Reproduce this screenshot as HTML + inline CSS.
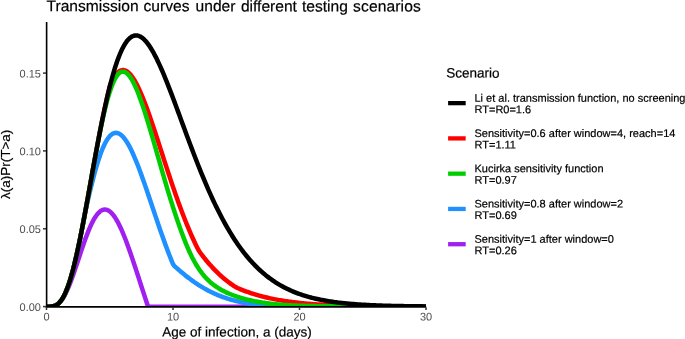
<!DOCTYPE html>
<html><head><meta charset="utf-8"><title>Transmission curves</title>
<style>
html,body{margin:0;padding:0;background:#fff;}
svg{display:block;font-family:"Liberation Sans",Arial,sans-serif;}
.at{font-size:11px;fill:#4D4D4D;}
.lt{font-size:11px;fill:#000;stroke:#000;stroke-width:0.2px;}
.ax{font-size:13.5px;fill:#000;stroke:#000;stroke-width:0.2px;}
.tt{font-size:15.6px;fill:#000;stroke:#000;stroke-width:0.2px;}
</style></head><body>
<svg width="685" height="339" viewBox="0 0 685 339">
<rect width="685" height="339" fill="#fff"/>
<text y="11.25" transform="rotate(0.04 47 11.25)" class="tt"><tspan x="46.5">Transmission</tspan> <tspan x="143.5">curves</tspan> <tspan x="195.6">under</tspan> <tspan x="240.9">different</tspan> <tspan x="301.9">testing</tspan> <tspan x="353.1" style="letter-spacing:0.12px">scenarios</tspan></text>
<clipPath id="cp"><rect x="46.5" y="21.9" width="379.6" height="284.75"/></clipPath>
<g clip-path="url(#cp)" fill="none" stroke-width="4.5" stroke-linejoin="round" stroke-linecap="butt">
<path d="M46.50,306.65 L47.77,306.65 L49.03,306.64 L50.30,306.60 L51.56,306.50 L52.83,306.31 L54.09,306.00 L55.36,305.53 L56.62,304.87 L57.88,303.99 L59.15,302.86 L60.41,301.50 L61.68,299.92 L62.95,298.07 L64.21,295.98 L65.47,293.64 L66.74,291.07 L68.00,288.27 L69.27,285.27 L70.53,282.07 L71.80,278.71 L73.06,275.21 L74.33,271.59 L75.59,267.88 L76.86,264.11 L78.12,260.29 L79.39,256.46 L80.66,252.65 L81.92,248.88 L83.19,245.17 L84.45,241.55 L85.72,238.04 L86.98,234.67 L88.25,231.45 L89.51,228.40 L90.78,225.53 L92.04,222.87 L93.31,220.43 L94.57,218.21 L95.84,216.23 L97.10,214.50 L98.37,213.02 L99.63,211.80 L100.89,210.83 L102.16,210.14 L103.43,209.70 L104.69,209.53 L105.96,209.62 L107.22,209.96 L108.49,210.57 L109.75,211.41 L111.02,212.50 L112.28,213.83 L113.55,215.38 L114.81,217.15 L116.08,219.13 L117.34,221.31 L118.61,223.68 L119.87,226.23 L121.14,228.95 L122.40,231.82 L123.67,234.85 L124.93,238.00 L126.20,241.28 L127.46,244.67 L128.73,248.16 L129.99,251.74 L131.25,255.40 L132.52,259.13 L133.79,262.92 L135.05,266.75 L136.31,270.62 L137.58,274.51 L138.85,278.42 L140.11,282.34 L141.38,286.25 L142.64,290.16 L143.91,294.05 L145.17,297.91 L146.44,301.74 L147.70,305.52 L148.97,306.65 L150.23,306.65 L151.50,306.65 L152.76,306.65 L154.03,306.65 L155.29,306.65 L156.56,306.65 L157.82,306.65 L159.09,306.65 L160.35,306.65 L161.62,306.65 L162.88,306.65 L164.15,306.65 L165.41,306.65 L166.68,306.65 L167.94,306.65 L169.21,306.65 L170.47,306.65 L171.74,306.65 L173.00,306.65 L174.27,306.65 L175.53,306.65 L176.80,306.65 L178.06,306.65 L179.33,306.65 L180.59,306.65 L181.86,306.65 L183.12,306.65 L184.39,306.65 L185.65,306.65 L186.92,306.65 L188.18,306.65 L189.45,306.65 L190.71,306.65 L191.97,306.65 L193.24,306.65 L194.51,306.65 L195.77,306.65 L197.03,306.65 L198.30,306.65 L199.57,306.65 L200.83,306.65 L202.10,306.65 L203.36,306.65 L204.62,306.65 L205.89,306.65 L207.16,306.65 L208.42,306.65 L209.69,306.65 L210.95,306.65 L212.22,306.65 L213.48,306.65 L214.75,306.65 L216.01,306.65 L217.28,306.65 L218.54,306.65 L219.81,306.65 L221.07,306.65 L222.34,306.65 L223.60,306.65 L224.87,306.65 L226.13,306.65 L227.40,306.65 L228.66,306.65 L229.93,306.65 L231.19,306.65 L232.46,306.65 L233.72,306.65 L234.99,306.65 L236.25,306.65 L237.52,306.65 L238.78,306.65 L240.05,306.65 L241.31,306.65 L242.58,306.65 L243.84,306.65 L245.11,306.65 L246.37,306.65 L247.64,306.65 L248.90,306.65 L250.17,306.65 L251.43,306.65 L252.70,306.65 L253.96,306.65 L255.22,306.65 L256.49,306.65 L257.75,306.65 L259.02,306.65 L260.29,306.65 L261.55,306.65 L262.82,306.65 L264.08,306.65 L265.35,306.65 L266.61,306.65 L267.88,306.65 L269.14,306.65 L270.40,306.65 L271.67,306.65 L272.94,306.65 L274.20,306.65 L275.47,306.65 L276.73,306.65 L278.00,306.65 L279.26,306.65 L280.52,306.65 L281.79,306.65 L283.06,306.65 L284.32,306.65 L285.59,306.65 L286.85,306.65 L288.12,306.65 L289.38,306.65 L290.64,306.65 L291.91,306.65 L293.18,306.65 L294.44,306.65 L295.71,306.65 L296.97,306.65 L298.24,306.65 L299.50,306.65 L300.76,306.65 L302.03,306.65 L303.30,306.65 L304.56,306.65 L305.82,306.65 L307.09,306.65 L308.36,306.65 L309.62,306.65 L310.89,306.65 L312.15,306.65 L313.42,306.65 L314.68,306.65 L315.94,306.65 L317.21,306.65 L318.48,306.65 L319.74,306.65 L321.01,306.65 L322.27,306.65 L323.54,306.65 L324.80,306.65 L326.06,306.65 L327.33,306.65 L328.60,306.65 L329.86,306.65 L331.12,306.65 L332.39,306.65 L333.66,306.65 L334.92,306.65 L336.19,306.65 L337.45,306.65 L338.72,306.65 L339.98,306.65 L341.25,306.65 L342.51,306.65 L343.78,306.65 L345.04,306.65 L346.31,306.65 L347.57,306.65 L348.84,306.65 L350.10,306.65 L351.37,306.65 L352.63,306.65 L353.90,306.65 L355.16,306.65 L356.43,306.65 L357.69,306.65 L358.96,306.65 L360.22,306.65 L361.49,306.65 L362.75,306.65 L364.02,306.65 L365.28,306.65 L366.55,306.65 L367.81,306.65 L369.07,306.65 L370.34,306.65 L371.61,306.65 L372.87,306.65 L374.14,306.65 L375.40,306.65 L376.67,306.65 L377.93,306.65 L379.19,306.65 L380.46,306.65 L381.73,306.65 L382.99,306.65 L384.26,306.65 L385.52,306.65 L386.79,306.65 L388.05,306.65 L389.32,306.65 L390.58,306.65 L391.85,306.65 L393.11,306.65 L394.38,306.65 L395.64,306.65 L396.91,306.65 L398.17,306.65 L399.44,306.65 L400.70,306.65 L401.97,306.65 L403.23,306.65 L404.50,306.65 L405.76,306.65 L407.03,306.65 L408.29,306.65 L409.56,306.65 L410.82,306.65 L412.09,306.65 L413.35,306.65 L414.62,306.65 L415.88,306.65 L417.15,306.65 L418.41,306.65 L419.68,306.65 L420.94,306.65 L422.21,306.65 L423.47,306.65 L424.74,306.65 L426.00,306.65" stroke="#A020F0"/>
<path d="M46.50,306.65 L47.77,306.65 L49.03,306.64 L50.30,306.60 L51.56,306.50 L52.83,306.31 L54.09,306.00 L55.36,305.53 L56.62,304.87 L57.88,303.99 L59.15,302.86 L60.41,301.45 L61.68,299.75 L62.95,297.73 L64.21,295.39 L65.47,292.71 L66.74,289.69 L68.00,286.33 L69.27,282.62 L70.53,278.59 L71.80,274.22 L73.06,269.54 L74.33,264.56 L75.59,259.29 L76.86,253.75 L78.12,247.97 L79.39,241.95 L80.66,235.73 L81.92,229.33 L83.19,222.76 L84.45,216.05 L85.72,210.02 L86.98,204.36 L88.25,198.79 L89.51,193.34 L90.78,188.03 L92.04,182.89 L93.31,177.93 L94.57,173.17 L95.84,168.64 L97.10,164.33 L98.37,160.27 L99.63,156.47 L100.89,152.93 L102.16,149.67 L103.43,146.70 L104.69,144.01 L105.96,141.61 L107.22,139.50 L108.49,137.69 L109.75,136.17 L111.02,134.94 L112.28,134.00 L113.55,133.34 L114.81,132.97 L116.08,132.86 L117.34,133.03 L118.61,133.45 L119.87,134.13 L121.14,135.05 L122.40,136.21 L123.67,137.59 L124.93,139.19 L126.20,141.00 L127.46,143.00 L128.73,145.18 L129.99,147.54 L131.25,150.06 L132.52,152.74 L133.79,155.56 L135.05,158.51 L136.31,161.58 L137.58,164.76 L138.85,168.05 L140.11,171.42 L141.38,174.87 L142.64,178.40 L143.91,181.98 L145.17,185.62 L146.44,189.30 L147.70,193.02 L148.97,196.76 L150.23,200.52 L151.50,204.29 L152.76,208.06 L154.03,211.83 L155.29,215.59 L156.56,219.33 L157.82,223.05 L159.09,226.74 L160.35,230.40 L161.62,234.02 L162.88,237.60 L164.15,241.13 L165.41,244.61 L166.68,248.03 L167.94,251.39 L169.21,254.70 L170.47,257.94 L171.74,261.11 L173.00,264.21 L174.27,265.93 L175.53,267.06 L176.80,268.18 L178.06,269.29 L179.33,270.39 L180.59,271.47 L181.86,272.54 L183.12,273.59 L184.39,274.62 L185.65,275.64 L186.92,276.63 L188.18,277.61 L189.45,278.58 L190.71,279.52 L191.97,280.44 L193.24,281.35 L194.51,282.23 L195.77,283.10 L197.03,283.95 L198.30,284.77 L199.57,285.58 L200.83,286.37 L202.10,287.13 L203.36,287.88 L204.62,288.61 L205.89,289.32 L207.16,290.01 L208.42,290.68 L209.69,291.33 L210.95,291.96 L212.22,292.57 L213.48,293.17 L214.75,293.74 L216.01,294.30 L217.28,294.84 L218.54,295.37 L219.81,295.87 L221.07,296.36 L222.34,296.84 L223.60,297.30 L224.87,297.74 L226.13,298.17 L227.40,298.58 L228.66,298.97 L229.93,299.36 L231.19,299.73 L232.46,300.08 L233.72,300.42 L234.99,300.75 L236.25,301.07 L237.52,301.37 L238.78,301.66 L240.05,301.94 L241.31,302.21 L242.58,302.47 L243.84,302.72 L245.11,302.95 L246.37,303.18 L247.64,303.40 L248.90,303.61 L250.17,303.80 L251.43,303.99 L252.70,304.17 L253.96,304.35 L255.22,304.51 L256.49,304.67 L257.75,304.82 L259.02,304.96 L260.29,305.10 L261.55,305.23 L262.82,305.31 L264.08,305.36 L265.35,305.42 L266.61,305.47 L267.88,305.52 L269.14,305.57 L270.40,305.62 L271.67,305.67 L272.94,305.71 L274.20,305.75 L275.47,305.79 L276.73,305.83 L278.00,305.87 L279.26,305.91 L280.52,305.94 L281.79,305.97 L283.06,306.01 L284.32,306.04 L285.59,306.07 L286.85,306.09 L288.12,306.12 L289.38,306.15 L290.64,306.17 L291.91,306.19 L293.18,306.22 L294.44,306.24 L295.71,306.26 L296.97,306.28 L298.24,306.30 L299.50,306.32 L300.76,306.33 L302.03,306.35 L303.30,306.37 L304.56,306.38 L305.82,306.39 L307.09,306.41 L308.36,306.42 L309.62,306.43 L310.89,306.45 L312.15,306.46 L313.42,306.47 L314.68,306.48 L315.94,306.49 L317.21,306.50 L318.48,306.51 L319.74,306.51 L321.01,306.52 L322.27,306.53 L323.54,306.54 L324.80,306.54 L326.06,306.55 L327.33,306.56 L328.60,306.56 L329.86,306.57 L331.12,306.57 L332.39,306.58 L333.66,306.58 L334.92,306.59 L336.19,306.59 L337.45,306.60 L338.72,306.60 L339.98,306.60 L341.25,306.61 L342.51,306.61 L343.78,306.61 L345.04,306.62 L346.31,306.62 L347.57,306.62 L348.84,306.62 L350.10,306.63 L351.37,306.63 L352.63,306.63 L353.90,306.63 L355.16,306.63 L356.43,306.63 L357.69,306.63 L358.96,306.63 L360.22,306.63 L361.49,306.64 L362.75,306.64 L364.02,306.64 L365.28,306.64 L366.55,306.64 L367.81,306.64 L369.07,306.64 L370.34,306.64 L371.61,306.64 L372.87,306.64 L374.14,306.64 L375.40,306.64 L376.67,306.64 L377.93,306.64 L379.19,306.64 L380.46,306.64 L381.73,306.64 L382.99,306.64 L384.26,306.64 L385.52,306.64 L386.79,306.65 L388.05,306.65 L389.32,306.65 L390.58,306.65 L391.85,306.65 L393.11,306.65 L394.38,306.65 L395.64,306.65 L396.91,306.65 L398.17,306.65 L399.44,306.65 L400.70,306.65 L401.97,306.65 L403.23,306.65 L404.50,306.65 L405.76,306.65 L407.03,306.65 L408.29,306.65 L409.56,306.65 L410.82,306.65 L412.09,306.65 L413.35,306.65 L414.62,306.65 L415.88,306.65 L417.15,306.65 L418.41,306.65 L419.68,306.65 L420.94,306.65 L422.21,306.65 L423.47,306.65 L424.74,306.65 L426.00,306.65" stroke="#1E90FF"/>
<path d="M46.50,306.65 L47.77,306.65 L49.03,306.64 L50.30,306.60 L51.56,306.50 L52.83,306.31 L54.09,306.00 L55.36,305.53 L56.62,304.87 L57.88,303.99 L59.15,302.86 L60.41,301.45 L61.68,299.75 L62.95,297.73 L64.21,295.39 L65.47,292.71 L66.74,289.69 L68.00,286.33 L69.27,282.62 L70.53,278.59 L71.80,274.22 L73.06,269.54 L74.33,264.56 L75.59,259.29 L76.86,253.75 L78.12,247.97 L79.39,241.95 L80.66,235.73 L81.92,229.33 L83.19,222.76 L84.45,216.05 L85.72,209.24 L86.98,202.33 L88.25,195.35 L89.51,188.34 L90.78,181.30 L92.04,174.27 L93.31,167.26 L94.57,160.30 L95.84,153.40 L97.10,146.58 L98.37,139.88 L99.63,133.29 L100.89,126.83 L102.16,120.53 L103.43,114.40 L104.69,108.44 L105.96,102.68 L107.22,97.12 L108.49,91.76 L109.75,86.63 L111.02,83.08 L112.28,80.41 L113.55,78.05 L114.81,76.00 L116.08,74.27 L117.34,72.84 L118.61,71.71 L119.87,70.88 L121.14,70.34 L122.40,70.08 L123.67,70.10 L124.93,70.39 L126.20,70.94 L127.46,71.74 L128.73,72.78 L129.99,74.05 L131.25,75.55 L132.52,77.25 L133.79,79.16 L135.05,81.26 L136.31,83.55 L137.58,86.00 L138.85,88.61 L140.11,91.38 L141.38,94.28 L142.64,97.32 L143.91,100.48 L145.17,103.74 L146.44,107.11 L147.70,110.57 L148.97,114.11 L150.23,117.73 L151.50,121.41 L152.76,125.15 L154.03,128.94 L155.29,132.76 L156.56,136.62 L157.82,140.51 L159.09,144.41 L160.35,148.33 L161.62,152.25 L162.88,156.17 L164.15,160.09 L165.41,163.99 L166.68,167.88 L167.94,171.74 L169.21,175.58 L170.47,179.39 L171.74,183.16 L173.00,186.90 L174.27,190.59 L175.53,194.24 L176.80,197.84 L178.06,201.39 L179.33,204.89 L180.59,208.33 L181.86,211.71 L183.12,215.03 L184.39,218.29 L185.65,221.49 L186.92,224.62 L188.18,227.69 L189.45,230.70 L190.71,233.63 L191.97,236.50 L193.24,239.30 L194.51,242.03 L195.77,244.70 L197.03,247.29 L198.30,249.82 L199.57,251.78 L200.83,253.49 L202.10,255.16 L203.36,256.80 L204.62,258.40 L205.89,259.97 L207.16,261.49 L208.42,262.99 L209.69,264.44 L210.95,265.86 L212.22,267.25 L213.48,268.60 L214.75,269.92 L216.01,271.20 L217.28,272.45 L218.54,273.66 L219.81,274.84 L221.07,275.99 L222.34,277.11 L223.60,278.19 L224.87,279.24 L226.13,280.26 L227.40,281.25 L228.66,282.21 L229.93,283.15 L231.19,284.05 L232.46,284.92 L233.72,285.77 L234.99,286.59 L236.25,287.39 L237.52,288.00 L238.78,288.54 L240.05,289.07 L241.31,289.58 L242.58,290.08 L243.84,290.57 L245.11,291.05 L246.37,291.52 L247.64,291.97 L248.90,292.41 L250.17,292.84 L251.43,293.26 L252.70,293.67 L253.96,294.07 L255.22,294.46 L256.49,294.84 L257.75,295.21 L259.02,295.56 L260.29,295.91 L261.55,296.25 L262.82,296.58 L264.08,296.90 L265.35,297.21 L266.61,297.51 L267.88,297.81 L269.14,298.09 L270.40,298.37 L271.67,298.64 L272.94,298.90 L274.20,299.15 L275.47,299.40 L276.73,299.64 L278.00,299.87 L279.26,300.10 L280.52,300.32 L281.79,300.53 L283.06,300.73 L284.32,300.93 L285.59,301.13 L286.85,301.31 L288.12,301.49 L289.38,301.67 L290.64,301.84 L291.91,302.01 L293.18,302.16 L294.44,302.32 L295.71,302.47 L296.97,302.61 L298.24,302.75 L299.50,302.89 L300.76,303.02 L302.03,303.15 L303.30,303.27 L304.56,303.39 L305.82,303.51 L307.09,303.62 L308.36,303.73 L309.62,303.83 L310.89,303.93 L312.15,304.03 L313.42,304.12 L314.68,304.21 L315.94,304.30 L317.21,304.38 L318.48,304.47 L319.74,304.55 L321.01,304.62 L322.27,304.70 L323.54,304.77 L324.80,304.84 L326.06,304.90 L327.33,304.97 L328.60,305.03 L329.86,305.09 L331.12,305.15 L332.39,305.20 L333.66,305.26 L334.92,305.31 L336.19,305.36 L337.45,305.41 L338.72,305.45 L339.98,305.50 L341.25,305.54 L342.51,305.58 L343.78,305.62 L345.04,305.66 L346.31,305.70 L347.57,305.73 L348.84,305.77 L350.10,305.80 L351.37,305.84 L352.63,305.87 L353.90,305.90 L355.16,305.93 L356.43,305.95 L357.69,305.98 L358.96,306.01 L360.22,306.03 L361.49,306.05 L362.75,306.08 L364.02,306.10 L365.28,306.12 L366.55,306.14 L367.81,306.16 L369.07,306.18 L370.34,306.20 L371.61,306.22 L372.87,306.23 L374.14,306.25 L375.40,306.27 L376.67,306.28 L377.93,306.29 L379.19,306.31 L380.46,306.32 L381.73,306.34 L382.99,306.35 L384.26,306.36 L385.52,306.37 L386.79,306.38 L388.05,306.39 L389.32,306.40 L390.58,306.41 L391.85,306.42 L393.11,306.43 L394.38,306.44 L395.64,306.45 L396.91,306.46 L398.17,306.46 L399.44,306.47 L400.70,306.48 L401.97,306.49 L403.23,306.49 L404.50,306.50 L405.76,306.50 L407.03,306.51 L408.29,306.52 L409.56,306.52 L410.82,306.53 L412.09,306.53 L413.35,306.54 L414.62,306.54 L415.88,306.55 L417.15,306.55 L418.41,306.55 L419.68,306.56 L420.94,306.56 L422.21,306.57 L423.47,306.57 L424.74,306.57 L426.00,306.58" stroke="#FF0000"/>
<path d="M46.50,306.65 L47.77,306.65 L49.03,306.64 L50.30,306.60 L51.56,306.50 L52.83,306.31 L54.09,306.00 L55.36,305.53 L56.62,304.87 L57.88,303.99 L59.15,302.86 L60.41,301.45 L61.68,299.75 L62.95,297.73 L64.21,295.39 L65.47,292.71 L66.74,289.69 L68.00,286.33 L69.27,282.62 L70.53,278.59 L71.80,274.22 L73.06,269.54 L74.33,264.56 L75.59,259.29 L76.86,253.75 L78.12,247.97 L79.39,241.95 L80.66,235.73 L81.92,229.33 L83.19,222.76 L84.45,216.05 L85.72,209.24 L86.98,202.33 L88.25,195.37 L89.51,188.36 L90.78,181.34 L92.04,174.33 L93.31,167.35 L94.57,160.43 L95.84,153.58 L97.10,146.82 L98.37,140.18 L99.63,133.72 L100.89,127.50 L102.16,121.52 L103.43,115.81 L104.69,110.38 L105.96,105.27 L107.22,100.48 L108.49,96.02 L109.75,91.92 L111.02,88.18 L112.28,84.81 L113.55,81.82 L114.81,79.20 L116.08,76.97 L117.34,75.13 L118.61,73.67 L119.87,72.60 L121.14,71.93 L122.40,71.63 L123.67,71.71 L124.93,72.12 L126.20,72.85 L127.46,73.87 L128.73,75.19 L129.99,76.79 L131.25,78.67 L132.52,80.81 L133.79,83.20 L135.05,85.84 L136.31,88.70 L137.58,91.76 L138.85,94.98 L140.11,98.36 L141.38,101.89 L142.64,105.56 L143.91,109.36 L145.17,113.26 L146.44,117.27 L147.70,121.38 L148.97,125.56 L150.23,129.81 L151.50,134.11 L152.76,138.45 L154.03,142.82 L155.29,147.21 L156.56,151.62 L157.82,156.04 L159.09,160.46 L160.35,164.87 L161.62,169.27 L162.88,173.64 L164.15,177.99 L165.41,182.30 L166.68,186.56 L167.94,190.78 L169.21,194.95 L170.47,199.07 L171.74,203.13 L173.00,207.12 L174.27,211.05 L175.53,214.91 L176.80,218.68 L178.06,222.38 L179.33,226.00 L180.59,229.53 L181.86,232.98 L183.12,236.34 L184.39,239.62 L185.65,242.82 L186.92,245.92 L188.18,248.89 L189.45,251.72 L190.71,254.42 L191.97,256.99 L193.24,259.44 L194.51,261.76 L195.77,263.97 L197.03,266.06 L198.30,268.04 L199.57,269.91 L200.83,271.69 L202.10,273.37 L203.36,274.95 L204.62,276.45 L205.89,277.86 L207.16,279.18 L208.42,280.43 L209.69,281.61 L210.95,282.71 L212.22,283.75 L213.48,284.74 L214.75,285.67 L216.01,286.57 L217.28,287.42 L218.54,288.23 L219.81,289.00 L221.07,289.74 L222.34,290.44 L223.60,291.10 L224.87,291.73 L226.13,292.34 L227.40,292.92 L228.66,293.48 L229.93,294.02 L231.19,294.53 L232.46,295.03 L233.72,295.51 L234.99,295.97 L236.25,296.41 L237.52,296.83 L238.78,297.24 L240.05,297.63 L241.31,298.01 L242.58,298.37 L243.84,298.72 L245.11,299.06 L246.37,299.38 L247.64,299.70 L248.90,300.00 L250.17,300.29 L251.43,300.56 L252.70,300.83 L253.96,301.09 L255.22,301.34 L256.49,301.58 L257.75,301.81 L259.02,302.03 L260.29,302.24 L261.55,302.45 L262.82,302.64 L264.08,302.83 L265.35,303.01 L266.61,303.19 L267.88,303.35 L269.14,303.51 L270.40,303.67 L271.67,303.81 L272.94,303.95 L274.20,304.09 L275.47,304.22 L276.73,304.34 L278.00,304.46 L279.26,304.57 L280.52,304.67 L281.79,304.77 L283.06,304.86 L284.32,304.95 L285.59,305.04 L286.85,305.11 L288.12,305.19 L289.38,305.26 L290.64,305.33 L291.91,305.39 L293.18,305.45 L294.44,305.51 L295.71,305.56 L296.97,305.61 L298.24,305.66 L299.50,305.70 L300.76,305.74 L302.03,305.78 L303.30,305.82 L304.56,305.86 L305.82,305.89 L307.09,305.93 L308.36,305.96 L309.62,305.99 L310.89,306.02 L312.15,306.04 L313.42,306.07 L314.68,306.10 L315.94,306.12 L317.21,306.14 L318.48,306.16 L319.74,306.18 L321.01,306.20 L322.27,306.22 L323.54,306.24 L324.80,306.26 L326.06,306.28 L327.33,306.29 L328.60,306.31 L329.86,306.32 L331.12,306.34 L332.39,306.35 L333.66,306.36 L334.92,306.38 L336.19,306.39 L337.45,306.40 L338.72,306.41 L339.98,306.42 L341.25,306.43 L342.51,306.44 L343.78,306.45 L345.04,306.46 L346.31,306.47 L347.57,306.47 L348.84,306.48 L350.10,306.49 L351.37,306.50 L352.63,306.50 L353.90,306.51 L355.16,306.52 L356.43,306.52 L357.69,306.53 L358.96,306.53 L360.22,306.54 L361.49,306.54 L362.75,306.55 L364.02,306.55 L365.28,306.56 L366.55,306.56 L367.81,306.57 L369.07,306.57 L370.34,306.57 L371.61,306.58 L372.87,306.58 L374.14,306.58 L375.40,306.59 L376.67,306.59 L377.93,306.59 L379.19,306.59 L380.46,306.60 L381.73,306.60 L382.99,306.60 L384.26,306.60 L385.52,306.61 L386.79,306.61 L388.05,306.61 L389.32,306.61 L390.58,306.61 L391.85,306.61 L393.11,306.62 L394.38,306.62 L395.64,306.62 L396.91,306.62 L398.17,306.62 L399.44,306.62 L400.70,306.62 L401.97,306.62 L403.23,306.63 L404.50,306.63 L405.76,306.63 L407.03,306.63 L408.29,306.63 L409.56,306.63 L410.82,306.63 L412.09,306.63 L413.35,306.63 L414.62,306.63 L415.88,306.63 L417.15,306.63 L418.41,306.64 L419.68,306.64 L420.94,306.64 L422.21,306.64 L423.47,306.64 L424.74,306.64 L426.00,306.64" stroke="#00CD00"/>
<path d="M46.50,306.65 L47.77,306.65 L49.03,306.64 L50.30,306.60 L51.56,306.50 L52.83,306.31 L54.09,306.00 L55.36,305.53 L56.62,304.87 L57.88,303.99 L59.15,302.86 L60.41,301.45 L61.68,299.75 L62.95,297.73 L64.21,295.39 L65.47,292.71 L66.74,289.69 L68.00,286.33 L69.27,282.62 L70.53,278.59 L71.80,274.22 L73.06,269.54 L74.33,264.56 L75.59,259.29 L76.86,253.75 L78.12,247.97 L79.39,241.95 L80.66,235.73 L81.92,229.33 L83.19,222.76 L84.45,216.05 L85.72,209.24 L86.98,202.33 L88.25,195.35 L89.51,188.34 L90.78,181.30 L92.04,174.27 L93.31,167.26 L94.57,160.30 L95.84,153.40 L97.10,146.58 L98.37,139.88 L99.63,133.29 L100.89,126.83 L102.16,120.53 L103.43,114.40 L104.69,108.44 L105.96,102.68 L107.22,97.12 L108.49,91.76 L109.75,86.63 L111.02,81.73 L112.28,77.06 L113.55,72.63 L114.81,68.45 L116.08,64.51 L117.34,60.83 L118.61,57.40 L119.87,54.22 L121.14,51.30 L122.40,48.63 L123.67,46.22 L124.93,44.06 L126.20,42.15 L127.46,40.48 L128.73,39.06 L129.99,37.88 L131.25,36.94 L132.52,36.23 L133.79,35.74 L135.05,35.47 L136.31,35.42 L137.58,35.58 L138.85,35.94 L140.11,36.50 L141.38,37.25 L142.64,38.18 L143.91,39.29 L145.17,40.57 L146.44,42.01 L147.70,43.61 L148.97,45.36 L150.23,47.25 L151.50,49.27 L152.76,51.43 L154.03,53.70 L155.29,56.09 L156.56,58.59 L157.82,61.19 L159.09,63.88 L160.35,66.66 L161.62,69.53 L162.88,72.47 L164.15,75.48 L165.41,78.55 L166.68,81.68 L167.94,84.87 L169.21,88.10 L170.47,91.37 L171.74,94.68 L173.00,98.03 L174.27,101.40 L175.53,104.79 L176.80,108.20 L178.06,111.62 L179.33,115.06 L180.59,118.50 L181.86,121.94 L183.12,125.38 L184.39,128.82 L185.65,132.24 L186.92,135.66 L188.18,139.06 L189.45,142.45 L190.71,145.82 L191.97,149.16 L193.24,152.48 L194.51,155.78 L195.77,159.04 L197.03,162.28 L198.30,165.48 L199.57,168.65 L200.83,171.79 L202.10,174.88 L203.36,177.94 L204.62,180.96 L205.89,183.94 L207.16,186.88 L208.42,189.78 L209.69,192.63 L210.95,195.44 L212.22,198.21 L213.48,200.93 L214.75,203.60 L216.01,206.23 L217.28,208.82 L218.54,211.35 L219.81,213.85 L221.07,216.29 L222.34,218.69 L223.60,221.04 L224.87,223.35 L226.13,225.61 L227.40,227.82 L228.66,229.99 L229.93,232.11 L231.19,234.19 L232.46,236.22 L233.72,238.20 L234.99,240.15 L236.25,242.05 L237.52,243.90 L238.78,245.71 L240.05,247.48 L241.31,249.21 L242.58,250.90 L243.84,252.55 L245.11,254.15 L246.37,255.72 L247.64,257.25 L248.90,258.74 L250.17,260.19 L251.43,261.60 L252.70,262.98 L253.96,264.32 L255.22,265.63 L256.49,266.90 L257.75,268.13 L259.02,269.34 L260.29,270.51 L261.55,271.65 L262.82,272.76 L264.08,273.84 L265.35,274.88 L266.61,275.90 L267.88,276.89 L269.14,277.85 L270.40,278.78 L271.67,279.69 L272.94,280.57 L274.20,281.43 L275.47,282.26 L276.73,283.06 L278.00,283.84 L279.26,284.60 L280.52,285.33 L281.79,286.05 L283.06,286.74 L284.32,287.41 L285.59,288.06 L286.85,288.69 L288.12,289.30 L289.38,289.89 L290.64,290.46 L291.91,291.02 L293.18,291.56 L294.44,292.08 L295.71,292.58 L296.97,293.07 L298.24,293.54 L299.50,294.00 L300.76,294.44 L302.03,294.87 L303.30,295.28 L304.56,295.68 L305.82,296.07 L307.09,296.45 L308.36,296.81 L309.62,297.16 L310.89,297.50 L312.15,297.82 L313.42,298.14 L314.68,298.45 L315.94,298.74 L317.21,299.03 L318.48,299.30 L319.74,299.57 L321.01,299.83 L322.27,300.08 L323.54,300.32 L324.80,300.55 L326.06,300.77 L327.33,300.99 L328.60,301.20 L329.86,301.40 L331.12,301.59 L332.39,301.78 L333.66,301.96 L334.92,302.13 L336.19,302.30 L337.45,302.46 L338.72,302.62 L339.98,302.77 L341.25,302.92 L342.51,303.06 L343.78,303.19 L345.04,303.32 L346.31,303.45 L347.57,303.57 L348.84,303.69 L350.10,303.80 L351.37,303.91 L352.63,304.01 L353.90,304.11 L355.16,304.21 L356.43,304.30 L357.69,304.39 L358.96,304.48 L360.22,304.56 L361.49,304.64 L362.75,304.72 L364.02,304.80 L365.28,304.87 L366.55,304.94 L367.81,305.00 L369.07,305.07 L370.34,305.13 L371.61,305.19 L372.87,305.25 L374.14,305.30 L375.40,305.35 L376.67,305.41 L377.93,305.45 L379.19,305.50 L380.46,305.55 L381.73,305.59 L382.99,305.63 L384.26,305.67 L385.52,305.71 L386.79,305.75 L388.05,305.78 L389.32,305.82 L390.58,305.85 L391.85,305.88 L393.11,305.91 L394.38,305.94 L395.64,305.97 L396.91,306.00 L398.17,306.03 L399.44,306.05 L400.70,306.07 L401.97,306.10 L403.23,306.12 L404.50,306.14 L405.76,306.16 L407.03,306.18 L408.29,306.20 L409.56,306.22 L410.82,306.24 L412.09,306.25 L413.35,306.27 L414.62,306.28 L415.88,306.30 L417.15,306.31 L418.41,306.33 L419.68,306.34 L420.94,306.35 L422.21,306.37 L423.47,306.38 L424.74,306.39 L426.00,306.40" stroke="#000000"/>
</g>
<line x1="46.62" x2="46.62" y1="21.9" y2="307.7" stroke="#000" stroke-width="1.6"/>
<line x1="45.8" x2="426.1" y1="306.9" y2="306.9" stroke="#000" stroke-width="1.6"/>
<line x1="43.0" x2="46" y1="306.6" y2="306.6" stroke="#333" stroke-width="1.5"/><text x="41.00" y="310.95" transform="rotate(0.04 41.00 310.95)" class="at" text-anchor="end">0.00</text><line x1="43.0" x2="46" y1="228.8" y2="228.8" stroke="#333" stroke-width="1.5"/><text x="41.00" y="233.10" transform="rotate(0.04 41.00 233.10)" class="at" text-anchor="end">0.05</text><line x1="43.0" x2="46" y1="150.9" y2="150.9" stroke="#333" stroke-width="1.5"/><text x="41.00" y="155.25" transform="rotate(0.04 41.00 155.25)" class="at" text-anchor="end">0.10</text><line x1="43.0" x2="46" y1="73.1" y2="73.1" stroke="#333" stroke-width="1.5"/><text x="41.00" y="77.40" transform="rotate(0.04 41.00 77.40)" class="at" text-anchor="end">0.15</text>
<line y1="307.2" y2="310.0" x1="46.5" x2="46.5" stroke="#333" stroke-width="1.5"/><text x="46.50" y="320.60" transform="rotate(0.04 46.50 320.60)" class="at" text-anchor="middle">0</text><line y1="307.2" y2="310.0" x1="173.0" x2="173.0" stroke="#333" stroke-width="1.5"/><text x="173.00" y="320.60" transform="rotate(0.04 173.00 320.60)" class="at" text-anchor="middle">10</text><line y1="307.2" y2="310.0" x1="299.5" x2="299.5" stroke="#333" stroke-width="1.5"/><text x="299.50" y="320.60" transform="rotate(0.04 299.50 320.60)" class="at" text-anchor="middle">20</text><line y1="307.2" y2="310.0" x1="426.0" x2="426.0" stroke="#333" stroke-width="1.5"/><text x="426.00" y="320.60" transform="rotate(0.04 426.00 320.60)" class="at" text-anchor="middle">30</text>
<text x="237.00" y="336.50" transform="rotate(0.04 237.00 336.50)" class="ax" text-anchor="middle">Age of infection, a (days)</text>
<text transform="translate(10.3,164.4) rotate(-90)" class="ax" text-anchor="middle">λ(a)Pr(T&gt;a)</text>
<text x="446.20" y="77.60" transform="rotate(0.04 446.20 77.60)" class="ax">Scenario</text>
<line x1="448.1" x2="465.7" y1="103.13" y2="103.13" stroke="#000000" stroke-width="4.3"/>
<text x="474.50" y="101.68" transform="rotate(0.04 474.50 101.68)" class="lt">Li et al. transmission function, no screening</text><text x="474.50" y="113.13" transform="rotate(0.04 474.50 113.13)" class="lt">RT=R0=1.6</text>
<line x1="448.1" x2="465.7" y1="138.40" y2="138.40" stroke="#FF0000" stroke-width="4.3"/>
<text x="474.50" y="136.95" transform="rotate(0.04 474.50 136.95)" class="lt">Sensitivity=0.6 after window=4, reach=14</text><text x="474.50" y="148.40" transform="rotate(0.04 474.50 148.40)" class="lt">RT=1.11</text>
<line x1="448.1" x2="465.7" y1="173.67" y2="173.67" stroke="#00CD00" stroke-width="4.3"/>
<text x="474.50" y="172.22" transform="rotate(0.04 474.50 172.22)" class="lt">Kucirka sensitivity function</text><text x="474.50" y="183.67" transform="rotate(0.04 474.50 183.67)" class="lt">RT=0.97</text>
<line x1="448.1" x2="465.7" y1="208.94" y2="208.94" stroke="#1E90FF" stroke-width="4.3"/>
<text x="474.50" y="207.49" transform="rotate(0.04 474.50 207.49)" class="lt">Sensitivity=0.8 after window=2</text><text x="474.50" y="218.94" transform="rotate(0.04 474.50 218.94)" class="lt">RT=0.69</text>
<line x1="448.1" x2="465.7" y1="244.21" y2="244.21" stroke="#A020F0" stroke-width="4.3"/>
<text x="474.50" y="242.76" transform="rotate(0.04 474.50 242.76)" class="lt">Sensitivity=1 after window=0</text><text x="474.50" y="254.21" transform="rotate(0.04 474.50 254.21)" class="lt">RT=0.26</text>
</svg>
</body></html>
